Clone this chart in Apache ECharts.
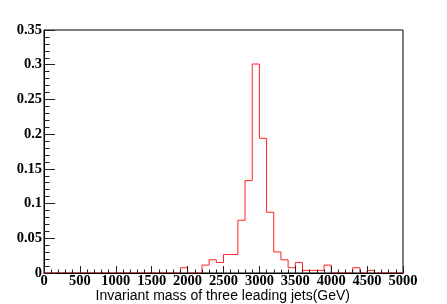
<!DOCTYPE html>
<html>
<head>
<meta charset="utf-8">
<script src="https://cdn.jsdelivr.net/npm/echarts@6/dist/echarts.min.js"></script>
<style>
html,body{margin:0;padding:0;background:#fff;}
#c{width:447px;height:304px;}
</style>
</head>
<body>
<div id="c"></div>
<script>
// Histogram bins (lower edge, GeV), bin width 100 GeV
var binLow = [0,100,200,300,400,500,600,700,800,900,
  1000,1100,1200,1300,1400,1500,1600,1700,1800,1900,
  2000,2100,2200,2300,2400,2500,2600,2700,2800,2900,
  3000,3100,3200,3300,3400,3500,3600,3700,3800,3900,
  4000,4100,4200,4300,4400,4500,4600,4700,4800,4900];
var binHighEnd = 5000;
// Normalised bin contents
var binValues = [0,0,0,0,0,0,0,0,0,0,
  0,0,0,0,0,0,0,0,0,0.0076,
  0,0,0.0114,0.019,0.0152,0.0266,0.0266,0.076,0.133,0.301,
  0.194,0.0875,0.0304,0.019,0.0076,0.0152,0.0038,0.0038,0.0038,0.0114,
  0,0,0,0.0076,0,0.0038,0,0,0,0];
var xTitle = 'Invariant mass of three leading jets(GeV)';

var stepData = [];
for (var i = 0; i < binLow.length; i++) stepData.push([binLow[i], binValues[i]]);
stepData.push([binHighEnd, binValues[binValues.length - 1]]);

var labelFont = {color:'#000', fontFamily:'Liberation Serif', fontWeight:'bold', fontSize:14.5};
var chart = echarts.init(document.getElementById('c'), null, {renderer:'canvas'});
chart.setOption({
  animation:false,
  backgroundColor:'#fff',
  grid:{left:44, right:44, top:30, bottom:31, show:true, borderColor:'#000', borderWidth:1, backgroundColor:'transparent', z:0},
  xAxis:{
    type:'value', min:0, max:5000, interval:500, z:5,
    axisLine:{show:true, lineStyle:{color:'#000', width:1}},
    axisTick:{show:true, inside:true, length:7, lineStyle:{color:'#222'}},
    minorTick:{show:true, splitNumber:5, length:3.5, lineStyle:{color:'#222'}},
    splitLine:{show:false},
    axisLabel:Object.assign({margin:1, showMinLabel:true, showMaxLabel:true,
      formatter:function(v){ return String(Math.round(v)); }}, labelFont)
  },
  yAxis:{
    type:'value', min:0, max:0.35, interval:0.05, z:5,
    axisLine:{show:true, lineStyle:{color:'#000', width:1}},
    axisTick:{show:true, inside:true, length:11, lineStyle:{color:'#222'}},
    minorTick:{show:true, splitNumber:5, length:5.5, lineStyle:{color:'#222'}},
    splitLine:{show:false},
    axisLabel:Object.assign({margin:2,
      formatter:function(v){ return String(+v.toFixed(2)); }}, labelFont)
  },
  graphic:[{
    type:'text', right:97, top:289,
    style:{text:xTitle, fill:'#000', font:'14px "Liberation Sans"'}
  }],
  series:[{
    type:'line', step:'end', data:stepData, symbol:'none', z:2,
    lineStyle:{color:'#ff2020', width:1}
  }]
});
</script>
</body>
</html>
